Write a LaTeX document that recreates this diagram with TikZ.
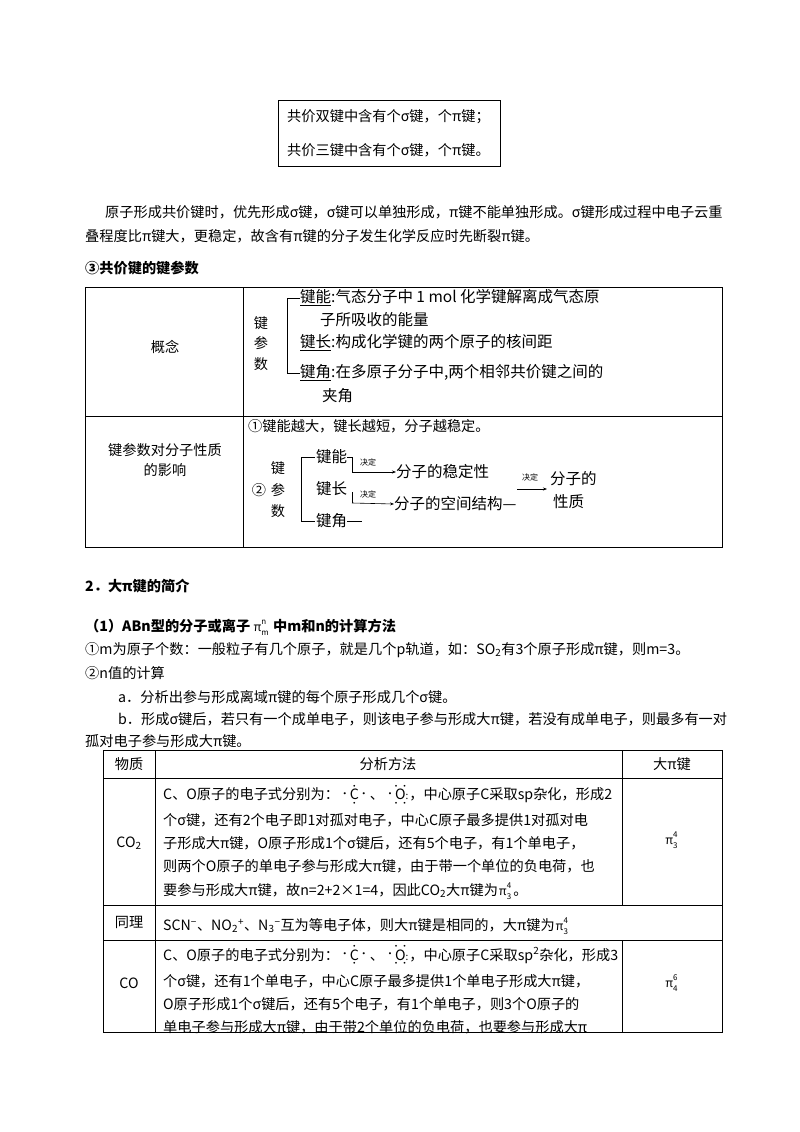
\documentclass[tikz,border=0pt]{standalone}
\usepackage{fontspec}
\setmainfont{Noto Sans CJK SC}
\usetikzlibrary{arrows.meta}
\newcommand\pdot{\raisebox{0.35ex}{\scalebox{0.7}{·}}}
\newcommand\eC{\kern1pt\pdot\ooalign{C\cr\hidewidth\raisebox{0.72em}{\scalebox{0.6}{·}}\hidewidth\cr\hidewidth\raisebox{-0.45em}{\scalebox{0.6}{·}}\hidewidth}\pdot\kern1pt}
\newcommand\eO{\kern1pt\pdot\ooalign{O\cr\hidewidth\raisebox{0.72em}{\scalebox{0.6}{··}}\hidewidth\cr\hidewidth\raisebox{-0.45em}{\scalebox{0.6}{··}}\hidewidth}\scalebox{0.7}{:}\kern1pt}
\newcommand\bpi[2]{\kern1pt{\large\textit{π}}\rlap{\raisebox{0.9ex}{\fontsize{8}{9}\selectfont #1}}\raisebox{-0.5ex}{\fontsize{8}{9}\selectfont #2}\kern2pt}
\begin{document}
\begin{tikzpicture}[x=1pt,y=-1pt,
  t/.style={anchor=west,inner sep=0pt,font=\fontsize{14.2}{16}\selectfont},
  c/.style={anchor=center,inner sep=0pt,font=\fontsize{14.2}{16}\selectfont},
  g/.style={anchor=west,inner sep=0pt,font=\fontsize{15.5}{17}\selectfont},
  b/.style={t,font=\fontsize{14.2}{16}\selectfont\bfseries},
  sm/.style={anchor=center,inner sep=0pt,font=\fontsize{8}{9}\selectfont},
  ln/.style={line width=0.7pt},
  ar/.style={-{Stealth[length=4pt,width=3pt]},line width=0.6pt}]
\useasboundingbox (0,0) rectangle (800,1132);
% top box
\draw[ln] (278,100) rectangle (500,166);
\node[t] (b1) at (287,117) {共价双键中含有个σ键，个π键；};
\node[t] (b2) at (287,150) {共价三键中含有个σ键，个π键。};
% paragraph
\node[t] (p1) at (105,212) {原子形成共价键时，优先形成σ键，σ键可以单独形成，π键不能单独形成。σ键形成过程中电子云重};
\node[t] (p2) at (85,236) {叠程度比π键大，更稳定，故含有π键的分子发生化学反应时先断裂π键。};
\node[b] (h3) at (85,268) {③共价键的键参数};
% table 1
\draw[ln] (85,287) rectangle (722,547);
\draw[ln] (243,287) -- (243,547);
\draw[ln] (85,416) -- (722,416);
\node[c] (g1) at (165,347) {概念};
\node[c] (k1) at (261,323) {键};
\node[c] (k2) at (261,343) {参};
\node[c] (k3) at (261,364) {数};
\draw[line width=0.6pt] (300,298) -- (287,298) -- (287,373) -- (300,373);
\node[g] (e1) at (300,298) {\underline{键能}:气态分子中 1 mol 化学键解离成气态原};
\node[g] (e1b) at (320,320) {子所吸收的能量};
\node[g] (e2) at (300,343) {\underline{键长}:构成化学键的两个原子的核间距};
\node[g] (e3) at (300,373) {\underline{键角}:在多原子分子中,两个相邻共价键之间的};
\node[g] (e3b) at (322,396) {夹角};
% row 2
\node[c] (g2a) at (165,450) {键参数对分子性质};
\node[c] (g2b) at (165,470) {的影响};
\node[t] (r1) at (248,426) {①键能越大，键长越短，分子越稳定。};
\node[c] (q1) at (278,468) {键};
\node[c] (q2) at (278,490) {参};
\node[c] (q0) at (259,490) {②};
\node[c] (q3) at (278,511) {数};
\draw[line width=0.6pt] (315,457) -- (301,457) -- (301,521) -- (315,521);
\node[g] (m1) at (316,457) {键能};
\node[g] (m2) at (316,489) {键长};
\node[g] (m3) at (316,521) {键角};
\coordinate (j1) at (352,457);
\coordinate (j2) at (352,472);
\coordinate (j3) at (362,521);
\coordinate (j4) at (352,492);
\coordinate (j5) at (352,503);
\draw[line width=0.6pt] (m1.east) -- (j1) -- (j2);
\draw[line width=0.6pt] (m3.east) -- (j3);
\node[g] (s1) at (396,472) {分子的稳定性};
\node[g] (s2) at (394,504) {分子的空间结构—};
\draw[ar] (j2) -- (s1.west);
\draw[line width=0.6pt] (j4) -- (j5);
\draw[ar] (j5) -- (s2.west);
\node[sm] (d1) at (368,462) {决定};
\node[sm] (d2) at (368,494) {决定};
\node[g] (s3) at (550,479) {分子的};
\node[sm] (d3) at (530,477) {决定};
\coordinate (a3) at (517,489);
\draw[ar] (a3) -- (547,489);
\node[g] (s4) at (553,502) {性质};
% section 2
\node[b] (h2) at (85,586) {2．大π键的简介};
\node[b] (h21) at (85,627) {（1）ABn型的分子或离子\,\textmd{\bpi{n}{m}}\,中m和n的计算方法};
\node[t] (l1) at (85,650) {①\textit{m}为原子个数：一般粒子有几个原子，就是几个\textit{p}轨道，如：SO\textsubscript{2}有3个原子形成π键，则\textit{m}=3。};
\node[t] (l2) at (85,673) {②\textit{n}值的计算};
\node[t] (l3) at (118,697) {\textit{a}．分析出参与形成离域π键的每个原子形成几个σ键。};
\node[t] (l4) at (118,719) {\textit{b}．形成σ键后，若只有一个成单电子，则该电子参与形成大π键，若没有成单电子，则最多有一对};
\node[t] (l5) at (85,741) {孤对电子参与形成大π键。};
% table 2
\draw[ln] (103,750) rectangle (722,1032);
\draw[ln] (155,750) -- (155,1032);
\draw[ln] (622,750) -- (622,905);
\draw[ln] (622,940) -- (622,1032);
\draw[ln] (103,778) -- (722,778);
\draw[ln] (103,905) -- (722,905);
\draw[ln] (103,940) -- (722,940);
\node[c] (th1) at (129,764) {物质};
\node[c] (th2) at (388,764) {分析方法};
\node[c] (th3) at (672,764) {大π键};
\node[c] (co2) at (129,843) {CO\textsubscript{2}};
\node[t] (c1) at (163,797) {C、O原子的电子式分别为：\eC、\eO，中心原子C采取sp杂化，形成2};
\node[t] (c2) at (163,820) {个σ键，还有2个电子即1对孤对电子，中心C原子最多提供1对孤对电};
\node[t] (c3) at (163,843) {子形成大π键，O原子形成1个σ键后，还有5个电子，有1个单电子，};
\node[t] (c4) at (163,866) {则两个O原子的单电子参与形成大π键，由于带一个单位的负电荷，也};
\node[t] (c5) at (163,891) {要参与形成大π键，故\textit{n}=2+2×1=4，因此CO\textsubscript{2}大π键为\bpi{4}{3}。};
\node[c] (pi1) at (672,840) {\bpi{4}{3}};
\node[c] (ty) at (129,922) {同理};
\node[t] (sc) at (163,926) {SCN\textsuperscript{−}、NO\textsubscript{2}\textsuperscript{+}、N\textsubscript{3}\textsuperscript{−}互为等电子体，则大π键是相同的，大π键为\bpi{4}{3}};
\node[c] (co) at (129,983) {CO};
\node[t] (o1) at (163,957) {C、O原子的电子式分别为：\eC、\eO，中心原子C采取sp\textsuperscript{2}杂化，形成3};
\node[t] (o2) at (163,981) {个σ键，还有1个单电子，中心C原子最多提供1个单电子形成大π键，};
\node[t] (o3) at (163,1004) {O原子形成1个σ键后，还有5个电子，有1个单电子，则3个O原子的};
\node[t] (o4) at (163,1027) {单电子参与形成大π键，由于带2个单位的负电荷，也要参与形成大π};
\node[c] (pi2) at (672,983) {\bpi{6}{4}};
\end{tikzpicture}
\end{document}
